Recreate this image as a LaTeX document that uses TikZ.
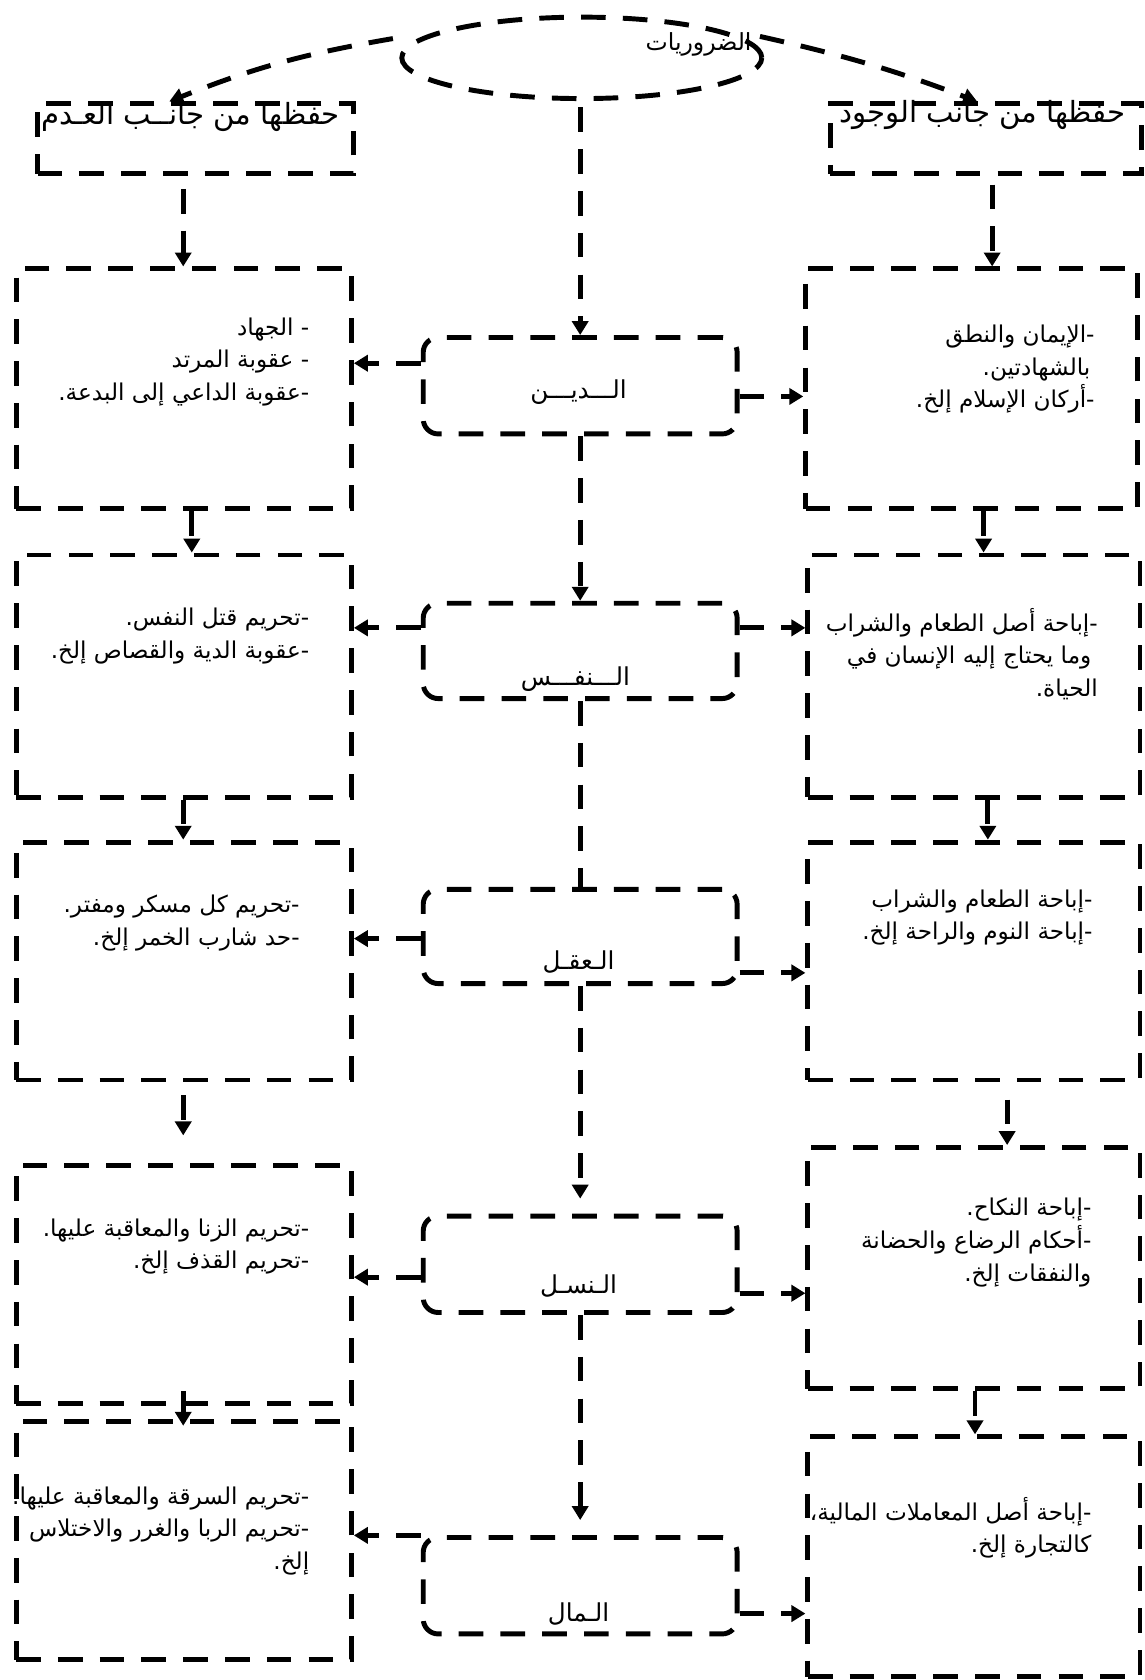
\documentclass[tikz,border=0pt]{standalone}
\usepackage{fontspec}
\TeXXeTstate=1
\newfontfamily\arfont[Script=Arabic]{DejaVu Sans}
\usetikzlibrary{arrows.meta,shapes.geometric,fit,calc}
\begin{document}
\begin{tikzpicture}[x=0.5pt,y=-0.5pt,
  dsh/.style={line width=2.3pt, dash pattern=on 11.5pt off 8pt},
  sbox/.style={dsh, draw, inner sep=0pt, rectangle},
  cbox/.style={sbox, rounded corners=7pt},
  conn/.style={dsh, -{Triangle[length=6.5pt,width=7.5pt]}},
  body/.style={font=\arfont\fontsize{10.8}{15.2}\selectfont, align=right, inner sep=0pt, anchor=north east},
  head/.style={font=\arfont\fontsize{13.6}{15}\selectfont, inner sep=0pt},
  clab/.style={font=\arfont\fontsize{11.5}{13}\selectfont, inner sep=0pt}]
\useasboundingbox (0,0) rectangle (1068,1568);

% ellipse
\node (E) [ellipse, dsh, draw, minimum width=168pt, minimum height=38pt, inner sep=0pt] at (543,54) {};
\node (Et) [clab, font=\arfont\fontsize{11}{13}\selectfont] at (652,41) {\beginR الضروريات\endR};

% header boxes
\node (HL) [sbox, fit={(35,97)(330,162)}] {};
\node (HR) [sbox, fit={(775,97)(1065,162)}] {};
\node (HLt) [head] at (178,109) {\beginR حفظها من جانــب العـدم\endR};
\node (HRt) [head] at (917,107) {\beginR حفظها من جانب الوجود\endR};

% centre boxes
\node (C1) [cbox, fit={(395,315)(688,405)}] {};
\node (C2) [cbox, fit={(395,563)(688,652)}] {};
\node (C3) [cbox, fit={(395,830)(688,918)}] {};
\node (C4) [cbox, fit={(395,1135)(688,1225)}] {};
\node (C5) [cbox, fit={(395,1435)(688,1525)}] {};
\node (C1t) [clab] at (540,366) {\beginR الـــديـــن\endR};
\node (C2t) [clab] at (537,634) {\beginR الـــنفـــس\endR};
\node (C3t) [clab] at (540,898) {\beginR الـعقـل\endR};
\node (C4t) [clab] at (540,1200) {\beginR الـنسـل\endR};
\node (C5t) [clab] at (540,1506) {\beginR الـمال\endR};

% left boxes
\node (L1) [sbox, fit={(15,251)(328,475)}] {};
\node (L2) [sbox, fit={(15,518)(328,744)}] {};
\node (L3) [sbox, fit={(15,786)(328,1008)}] {};
\node (L4) [sbox, fit={(15,1088)(328,1310)}] {};
\node (L5) [sbox, fit={(15,1327)(328,1549)}] {};
% right boxes
\node (R1) [sbox, fit={(752,251)(1062,475)}] {};
\node (R2) [sbox, fit={(754,518)(1064,744)}] {};
\node (R3) [sbox, fit={(754,786)(1064,1008)}] {};
\node (R4) [sbox, fit={(754,1071)(1064,1296)}] {};
\node (R5) [sbox, fit={(754,1341)(1064,1565)}] {};

% texts
\node (L1t) [body] at (289,296) {\beginR - الجهاد\endR\\\beginR - عقوبة المرتد\endR\\\beginR -عقوبة الداعي إلى البدعة.\endR};
\node (L2t) [body] at (289,567) {\beginR -تحريم قتل النفس.\endR\\\beginR -عقوبة الدية والقصاص إلخ.\endR};
\node (L3t) [body] at (280,835) {\beginR -تحريم كل مسكر ومفتر.\endR\\\beginR -حد شارب الخمر إلخ.\endR};
\node (L4t) [body] at (289,1137) {\beginR -تحريم الزنا والمعاقبة عليها.\endR\\\beginR -تحريم القذف إلخ.\endR};
\node (L5t) [body] at (289,1387) {\beginR -تحريم السرقة والمعاقبة عليها.\endR\\\beginR -تحريم الربا والغرر والاختلاس\endR\\\beginR إلخ.\endR};
\node (R1t) [body] at (1022,303) {\beginR -الإيمان والنطق\endR\\\beginR\hspace*{2pt}بالشهادتين.\endR\\\beginR -أركان الإسلام إلخ.\endR};
\node (R2t) [body] at (1025,567) {\beginR -إباحة أصل الطعام والشراب\endR\\\beginR\hspace*{3pt}وما يحتاج إليه الإنسان في\endR\\\beginR الحياة.\endR};
\node (R3t) [body] at (1020,830) {\beginR -إباحة الطعام والشراب\endR\\\beginR -إباحة النوم والراحة إلخ.\endR};
\node (R4t) [body] at (1019,1118) {\beginR -إباحة النكاح.\endR\\\beginR -أحكام الرضاع والحضانة\endR\\\beginR والنفقات إلخ.\endR};
\node (R5t) [body] at (1019,1397) {\beginR -إباحة أصل المعاملات المالية،\endR\\\beginR كالتجارة إلخ.\endR};

% ellipse to headers
\draw[conn] ($(E.west)+(-6,-18)$) to[bend right=6] (HL.north -| {(158,0)});
\draw[conn] ($(E.east)+(-4,-20)$) to[bend left=4] (HR.north -| {(912,0)});

% centre column
\draw[conn, shorten <=3pt] (C1.north |- E.south) -- (C1.north);
\draw[conn] (C1.south) -- (C2.north);
\draw[dsh] (C2.south) -- (C3.north);
\draw[conn, shorten >=7pt] (C3.south) -- (C4.north);
\draw[conn, shorten >=7pt] (C4.south) -- (C5.north);

% centre to sides
\draw[conn] (C1.west |- {(0,339)}) -- (L1.east |- {(0,339)});
\draw[conn] (C1.east |- {(0,370)}) -- (R1.west |- {(0,370)});
\draw[conn] (C2.west |- {(0,586)}) -- (L2.east |- {(0,586)});
\draw[conn] (C2.east |- {(0,586)}) -- (R2.west |- {(0,586)});
\draw[conn] (C3.west |- {(0,876)}) -- (L3.east |- {(0,876)});
\draw[conn] (C3.east |- {(0,908)}) -- (R3.west |- {(0,908)});
\draw[conn] (C4.west |- {(0,1192)}) -- (L4.east |- {(0,1192)});
\draw[conn] (C4.east |- {(0,1207)}) -- (R4.west |- {(0,1207)});
\draw[conn] (C5.west |- {(0,1433)}) -- (L5.east |- {(0,1433)});
\draw[conn] (C5.east |- {(0,1506)}) -- (R5.west |- {(0,1506)});

% left column
\draw[conn, shorten <=6pt] (HL.south -| {(171,0)}) -- (L1.north -| {(171,0)});
\draw[conn] (L1.south -| {(179,0)}) -- (L2.north -| {(179,0)});
\draw[conn] (L2.south -| {(171,0)}) -- (L3.north -| {(171,0)});
\draw[conn, shorten <=6pt, shorten >=13pt] (L3.south -| {(171,0)}) -- (L4.north -| {(171,0)});
\draw[conn, shorten <=-7pt, shorten >=-3pt] (L4.south -| {(171,0)}) -- (L5.north -| {(171,0)});
% right column
\draw[conn, shorten <=4pt] (HR.south -| {(926,0)}) -- (R1.north -| {(926,0)});
\draw[conn] (R1.south -| {(918,0)}) -- (R2.north -| {(918,0)});
\draw[conn] (R2.south -| {(922,0)}) -- (R3.north -| {(922,0)});
\draw[conn, shorten <=8pt] (R3.south -| {(940,0)}) -- (R4.north -| {(940,0)});
\draw[conn] (R4.south -| {(910,0)}) -- (R5.north -| {(910,0)});
\end{tikzpicture}
\end{document}
